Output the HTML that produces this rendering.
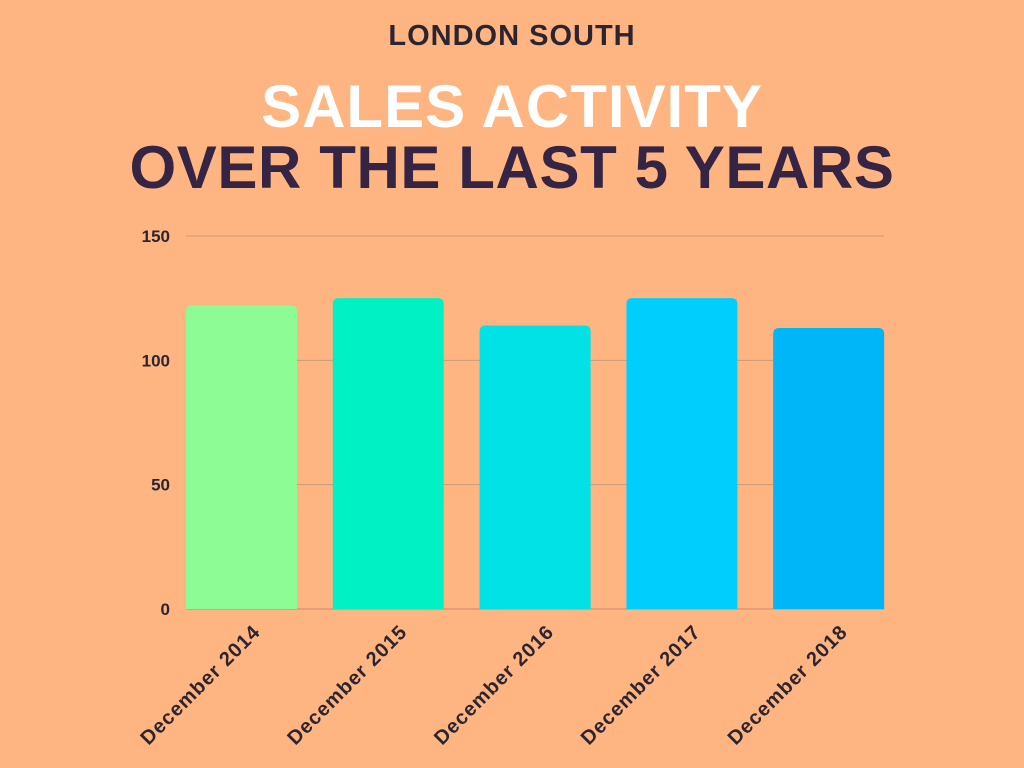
<!DOCTYPE html>
<html><head><meta charset="utf-8"><style>
body{margin:0;width:1024px;height:768px;background:#ffb581;overflow:hidden;font-family:"Liberation Sans",sans-serif}
.t1{position:absolute;top:20px;width:1024px;text-align:center;font-size:29px;font-weight:bold;color:#2c2530;letter-spacing:1px}
.t2{position:absolute;top:72px;width:1024px;text-align:center;font-size:60px;font-weight:bold;color:#fff;letter-spacing:1px}
.t3{position:absolute;top:133px;width:1024px;text-align:center;font-size:60px;font-weight:bold;color:#352443;letter-spacing:0.6px}
</style></head><body>
<div class="t1">LONDON SOUTH</div>
<div class="t2">SALES ACTIVITY</div>
<div class="t3">OVER THE LAST 5 YEARS</div>
<svg id="chart" width="1024" height="768" style="position:absolute;left:0;top:0"></svg>
<script>
const categories=["December 2014","December 2015","December 2016","December 2017","December 2018"];
const values=[122,125,114,125,113];
const colors=["#8dfc94","#00f2c4","#00e2e6","#00cffd","#00b5f8"];
const ticks=[0,50,100,150];
const svg=document.getElementById('chart');
const NS='http://www.w3.org/2000/svg';
const x0=186,x1=884,yTop=236,yBot=609,maxV=150;
const y=v=>yBot-(v/maxV)*(yBot-yTop);
const step=(x1-x0+36)/categories.length, bw=111;
const bx=i=>x0+i*step;
function mk(t,a){const e=document.createElementNS(NS,t);for(const k in a)e.setAttribute(k,a[k]);svg.appendChild(e);return e;}
ticks.forEach(t=>{
  const l=mk('line',{x1:x0,x2:x1,y1:y(t),y2:y(t),stroke:t===0?'#c98a66':'#c99a78','stroke-width':1});
  
  
  const tx=mk('text',{x:170,y:y(t)+6,'text-anchor':'end','font-size':17,'font-weight':'bold',fill:'#2c2530'});
  tx.textContent=t;
  
  
});
categories.forEach((c,i)=>{
  const x=bx(i),top=y(values[i]),r=6;
  const p=mk('path',{d:`M${x},${yBot}V${top+r}Q${x},${top} ${x+r},${top}H${x+bw-r}Q${x+bw},${top} ${x+bw},${top+r}V${yBot}Z`,fill:colors[i]});
  
  
  const cx=x+bw/2+20,cy=yBot+24;
  const t=mk('text',{x:cx,y:cy,'text-anchor':'end','font-size':20,'font-weight':'bold',fill:'#2c2530','letter-spacing':'1',transform:`rotate(-45 ${cx} ${cy})`});
  t.textContent=c;
  
  
});
</script>
</body></html>
